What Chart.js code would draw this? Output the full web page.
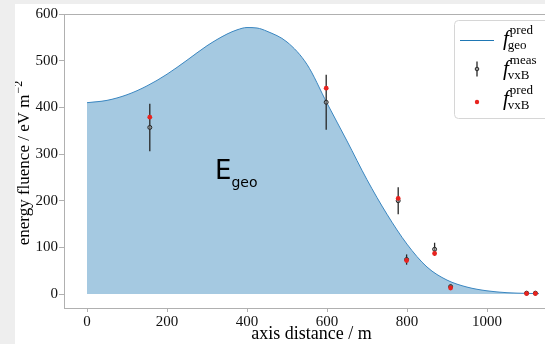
<!DOCTYPE html>
<html>
<head>
<meta charset="utf-8">
<script src="https://cdn.jsdelivr.net/npm/chart.js@4.4.1/dist/chart.umd.min.js"></script>
<style>
  html, body { margin: 0; padding: 0; background: #eeeeee; overflow: hidden; width: 545px; height: 344px; }
  #wrap { position: absolute; left: 15px; top: 4px; width: 550px; height: 340px; background: #fff; }
</style>
</head>
<body>
<div id="wrap"><canvas id="ldf" width="550" height="340"></canvas></div>
<script>
// geometric lateral distribution (smooth curve)
const curveDist = [0, 50, 100, 150, 200, 250, 300, 350, 375, 400, 425, 450, 500, 550, 600, 650, 700, 750, 800, 850, 900, 950, 1000, 1050, 1100, 1130];
const curveFluence = [410, 415, 427, 446, 471, 501, 532, 557, 566, 571, 570, 563, 540, 492, 409, 328, 245, 171, 107, 58, 30, 15, 7, 3, 1.5, 1];

// measured vxB fluence with uncertainties, and prediction at the same stations
const measDist = [157, 598, 778, 799, 869, 909, 1099, 1121];
const measFluence = [357, 411, 200, 74, 96, 16, 2, 2];
const measErr = [51, 59, 29, 11, 14, 4, 1, 1];
const predVxB = [379, 441, 205, 72, 87, 13, 1, 1];

const xTicks = [0, 200, 400, 600, 800, 1000];
const yTicks = [0, 100, 200, 300, 400, 500, 600];

const serif = '"Liberation Serif", "DejaVu Serif", serif';
const spine = '#b0b0b0';

const errorBars = {
  id: 'errorBars',
  afterDatasetDraw(chart, args) {
    if (args.index !== 0) return;
    const { ctx, scales: { x, y } } = chart;
    ctx.save();
    ctx.strokeStyle = '#262626';
    ctx.lineWidth = 1.3;
    measDist.forEach((d, i) => {
      const px = x.getPixelForValue(d);
      ctx.beginPath();
      ctx.moveTo(px, y.getPixelForValue(measFluence[i] - measErr[i]));
      ctx.lineTo(px, y.getPixelForValue(measFluence[i] + measErr[i]));
      ctx.stroke();
    });
    ctx.restore();
  }
};

// draws "f" with a superscript and a subscript
function mathLabel(ctx, x, base, sup, sub) {
  ctx.font = 'italic 21px ' + serif;
  ctx.fillText('f', x, base);
  const w = ctx.measureText('f').width;
  ctx.font = '13px ' + serif;
  ctx.fillText(sup, x + w + 1, base - 11);
  ctx.fillText(sub, x + w - 1, base + 4);
}

const decorations = {
  id: 'decorations',
  afterDatasetsDraw(chart) {
    const { ctx, chartArea, scales: { x, y } } = chart;
    ctx.save();
    // top spine
    ctx.strokeStyle = spine;
    ctx.lineWidth = 1;
    ctx.beginPath();
    ctx.moveTo(chartArea.left, chartArea.top + 0.5);
    ctx.lineTo(chartArea.right, chartArea.top + 0.5);
    ctx.stroke();

    // E_geo annotation inside the filled area
    const ex = x.getPixelForValue(320);
    const ey = y.getPixelForValue(247);
    ctx.fillStyle = '#000';
    ctx.textBaseline = 'alphabetic';
    ctx.font = '26px "DejaVu Sans", sans-serif';
    ctx.fillText('E', ex, ey);
    const ew = ctx.measureText('E').width;
    ctx.font = '14px "DejaVu Sans", sans-serif';
    ctx.fillText('geo', ex + ew, ey + 8);
    ctx.restore();
  },
  afterDraw(chart) {
    const { ctx, chartArea } = chart;
    ctx.save();

    // y axis title with superscript
    const main = 'energy fluence / eV m';
    const sup = '\u22122';
    ctx.font = '17px ' + serif;
    const mw = ctx.measureText(main).width;
    ctx.font = '12px ' + serif;
    const sw = ctx.measureText(sup).width;
    ctx.translate(14, (chartArea.top + chartArea.bottom) / 2 + 2);
    ctx.rotate(-Math.PI / 2);
    ctx.fillStyle = '#000';
    ctx.textBaseline = 'alphabetic';
    const sx = -(mw + sw + 1) / 2;
    ctx.font = '17px ' + serif;
    ctx.fillText(main, sx, 0);
    ctx.font = '12px ' + serif;
    ctx.fillText(sup, sx + mw + 1, -7);
    ctx.restore();

    // legend box
    ctx.save();
    const bx = 439.5, by = 16.5, bw = 140, bh = 98, r = 4;
    ctx.beginPath();
    ctx.roundRect(bx, by, bw, bh, r);
    ctx.fillStyle = 'rgba(255,255,255,0.85)';
    ctx.fill();
    ctx.strokeStyle = '#d6d6d6';
    ctx.lineWidth = 1;
    ctx.stroke();

    // line sample
    ctx.strokeStyle = '#1f77b4';
    ctx.lineWidth = 1;
    ctx.beginPath();
    ctx.moveTo(445, 36.5);
    ctx.lineTo(479, 36.5);
    ctx.stroke();

    // errorbar sample
    ctx.strokeStyle = '#262626';
    ctx.lineWidth = 1.3;
    ctx.beginPath();
    ctx.moveTo(462, 57.5);
    ctx.lineTo(462, 72.5);
    ctx.stroke();
    ctx.lineWidth = 1;
    ctx.beginPath();
    ctx.arc(462, 65, 1.8, 0, Math.PI * 2);
    ctx.fillStyle = '#9a9a9a';
    ctx.fill();
    ctx.stroke();

    // predicted point sample
    ctx.beginPath();
    ctx.arc(462, 98, 2.2, 0, Math.PI * 2);
    ctx.fillStyle = '#e8231f';
    ctx.fill();

    ctx.fillStyle = '#000';
    ctx.textBaseline = 'alphabetic';
    mathLabel(ctx, 488, 41, 'pred', 'geo');
    mathLabel(ctx, 488, 71, 'meas', 'vxB');
    mathLabel(ctx, 488, 101, 'pred', 'vxB');
    ctx.restore();
  }
};

const curvePoints = curveDist.map((d, i) => ({ x: d, y: curveFluence[i] }));
const measPoints = measDist.map((d, i) => ({ x: d, y: measFluence[i] }));
const predPoints = measDist.map((d, i) => ({ x: d, y: predVxB[i] }));

new Chart(document.getElementById('ldf'), {
  type: 'scatter',
  data: {
    datasets: [
      {
        label: 'f_geo pred',
        data: curvePoints,
        showLine: true,
        fill: 'origin',
        borderColor: '#3a86c0',
        backgroundColor: 'rgba(31,119,180,0.4)',
        borderWidth: 1,
        pointRadius: 0,
        cubicInterpolationMode: 'monotone',
        order: 3
      },
      {
        label: 'f_vxB meas',
        data: measPoints,
        pointRadius: 2,
        pointBorderWidth: 1,
        pointBorderColor: '#262626',
        pointBackgroundColor: 'rgba(150,150,150,0.6)',
        order: 2
      },
      {
        label: 'f_vxB pred',
        data: predPoints,
        pointRadius: 2.4,
        pointBorderWidth: 0,
        pointBackgroundColor: '#e8231f',
        order: 1
      }
    ]
  },
  options: {
    responsive: false,
    animation: false,
    layout: { padding: { top: 8, right: 6, left: 0, bottom: 0 } },
    plugins: {
      legend: { display: false },
      tooltip: { enabled: false }
    },
    scales: {
      x: {
        type: 'linear',
        min: -57.5,
        max: 1180,
        afterFit: s => { s.height = 36; },
        afterBuildTicks: s => { s.ticks = xTicks.map(v => ({ value: v })); },
        grid: { drawOnChartArea: false, drawTicks: true, tickLength: 4, tickColor: spine },
        border: { display: true, color: spine, width: 1 },
        ticks: {
          color: '#111', padding: 1, maxRotation: 0,
          font: { family: serif, size: 15 },
          callback: v => String(v)
        },
        title: {
          display: true,
          text: 'axis distance / m',
          color: '#000',
          padding: { top: 0, bottom: -1 },
          font: { family: serif, size: 18 }
        }
      },
      y: {
        type: 'linear',
        min: -29.8,
        max: 600,
        afterFit: s => { s.width = 49; },
        afterBuildTicks: s => { s.ticks = yTicks.map(v => ({ value: v })); },
        grid: { drawOnChartArea: false, drawTicks: true, tickLength: 5, tickColor: spine },
        border: { display: true, color: spine, width: 1 },
        ticks: {
          color: '#111', padding: 1,
          font: { family: serif, size: 15 },
          callback: v => String(v)
        }
      }
    }
  },
  plugins: [errorBars, decorations]
});
</script>
</body>
</html>
